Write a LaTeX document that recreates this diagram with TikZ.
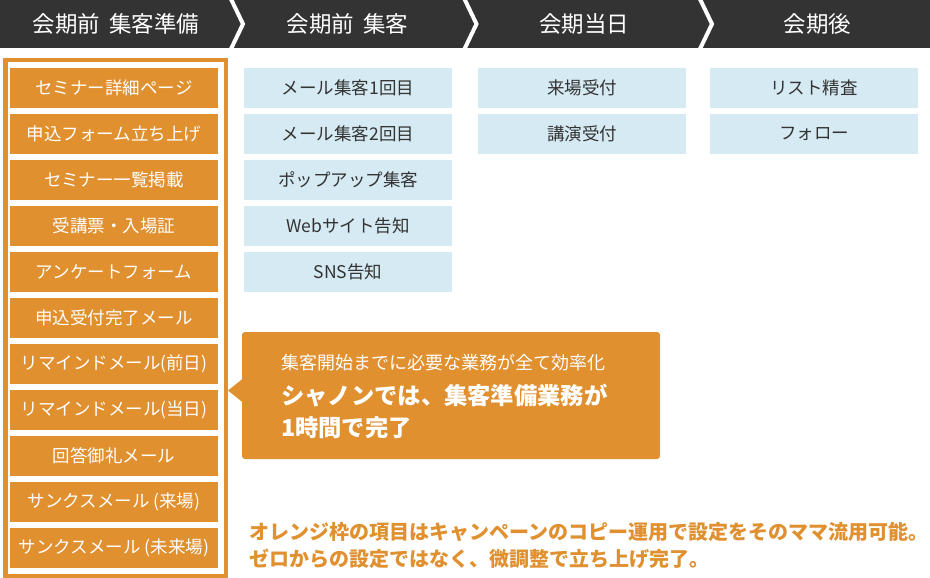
\documentclass[tikz,border=0pt]{standalone}
\usepackage{fontspec}
\setmainfont{Noto Sans CJK JP}
\definecolor{hdr}{HTML}{333333}
\definecolor{org}{HTML}{E0902F}
\definecolor{lblue}{HTML}{D6EAF3}
\definecolor{txt}{HTML}{333333}
\begin{document}
\begin{tikzpicture}[x=1pt,y=-1pt,
  hdrtext/.style={text=white,inner sep=0pt,font=\fontsize{22.5}{26}\selectfont},
  obox/.style={fill=org,text=white,minimum width=208pt,minimum height=40pt,inner sep=0pt,font=\fontsize{17.5}{20}\selectfont},
  bbox/.style={fill=lblue,text=txt,minimum width=208pt,minimum height=40pt,inner sep=0pt,font=\fontsize{17.5}{20}\selectfont},
  chev/.style={draw=white,line width=4pt,line join=miter},
  calltext/.style={anchor=west,inner sep=0pt,text=white},
  notetext/.style={anchor=west,inner sep=0pt,text=org,font=\bfseries\fontsize{20}{22}\selectfont},
]
\useasboundingbox (0,0) rectangle (930,578);
\fill[white] (0,0) rectangle (930,578);
% header bar
\fill[hdr] (0,0) rectangle (930,48);
\begin{scope}
  \clip (0,0) rectangle (930,48);
  \draw[chev] (230.5,-2) -- (243,24) -- (230.5,50);
  \draw[chev] (464,-2) -- (476.5,24) -- (464,50);
  \draw[chev] (699.5,-2) -- (712,24) -- (699.5,50);
\end{scope}
\node[hdrtext] (h1) at (116,24) {会期前\hspace{0.4em}集客準備};
\node[hdrtext] (h2) at (347.5,24) {会期前\hspace{0.4em}集客};
\node[hdrtext] (h3) at (584,24) {会期当日};
\node[hdrtext] (h4) at (817.5,24) {会期後};
% orange frame
\draw[org,line width=4.5pt] (5.25,60.25) rectangle (225.75,575.75);
% orange boxes
\foreach \t [count=\i] in {セミナー詳細ページ,申込フォーム立ち上げ,セミナー一覧掲載,受講票・入場証,アンケートフォーム,申込受付完了メール,リマインドメール(前日),リマインドメール(当日),回答御礼メール,サンクスメール (来場),サンクスメール (未来場)}
  \node[obox] (o\i) at ({114},{88+46*(\i-1)}) {\t};
% blue boxes
\foreach \t [count=\i] in {メール集客1回目,メール集客2回目,ポップアップ集客,Webサイト告知,SNS告知}
  \node[bbox] (b\i) at ({348},{88+46*(\i-1)}) {\t};
\foreach \t [count=\i] in {来場受付,講演受付}
  \node[bbox] (c\i) at ({582},{88+46*(\i-1)}) {\t};
\foreach \t [count=\i] in {リスト精査,フォロー}
  \node[bbox] (d\i) at ({814},{88+46*(\i-1)}) {\t};
% callout
\node[fill=org,rounded corners=3pt,minimum width=418pt,minimum height=127pt,inner sep=0pt] (call) at (451,395.5) {};
\fill[org] (228,390.5) -- (243,378.5) -- (243,402.5) -- cycle;
\node[calltext,font=\fontsize{18}{20}\selectfont] (ct1) at (281,363) {集客開始までに必要な業務が全て効率化};
\node[calltext,font=\bfseries\fontsize{23.3}{26}\selectfont] (ct2) at (281,396) {シャノンでは、集客準備業務が};
\node[calltext,font=\bfseries\fontsize{23.3}{26}\selectfont] (ct3) at (281,428) {1時間で完了};
% note
\node[notetext] (n1) at (249,532) {オレンジ枠の項目はキャンペーンのコピー運用で設定をそのママ流用可能。};
\node[notetext] (n2) at (249,559) {ゼロからの設定ではなく、微調整で立ち上げ完了。};
\end{tikzpicture}
\end{document}
